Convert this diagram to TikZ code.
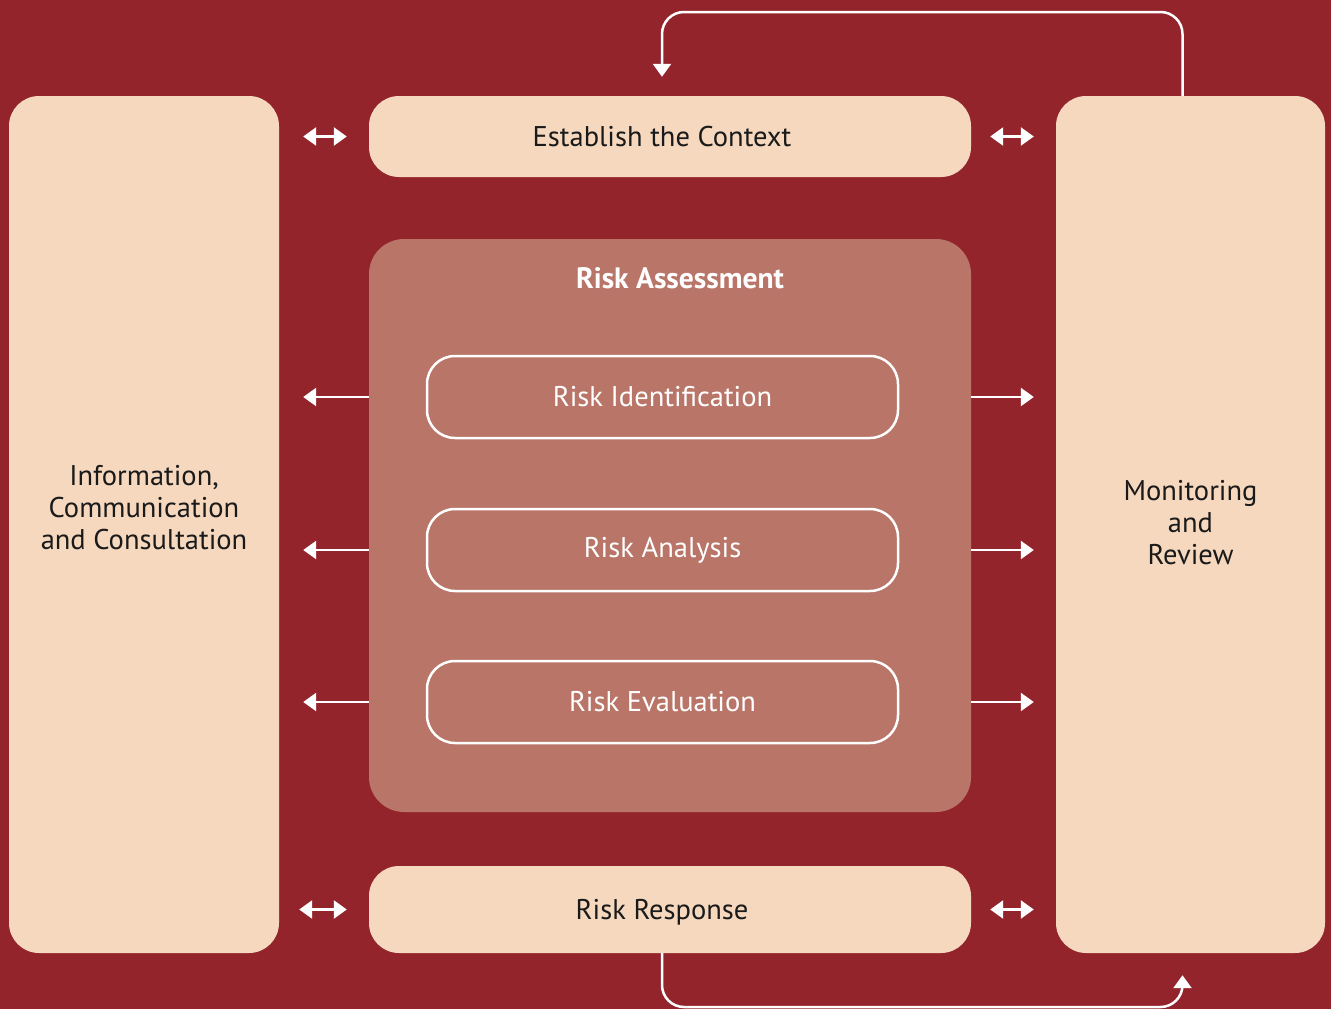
\documentclass[tikz,border=0pt]{standalone}
\usepackage{fontspec}
\setmainfont{PT Sans}
\usetikzlibrary{arrows.meta,positioning}
\definecolor{bgred}{HTML}{93242C}
\definecolor{sand}{HTML}{F5D8BE}
\definecolor{clay}{HTML}{B97568}
\definecolor{ink}{HTML}{1A1A1A}
\tikzset{
  sandbox/.style={fill=sand, rounded corners=30pt, text=ink, align=center,
    font=\fontsize{28.5}{32}\selectfont, inner sep=0pt},
  stagebox/.style={draw=white, line width=2.5pt, fill=clay, rounded corners=28pt,
    text=white, minimum width=471pt, minimum height=82pt,
    font=\fontsize{28.5}{32}\selectfont},
  link/.style={draw=white, line width=2.5pt, -{Triangle[width=18pt,length=13pt]}},
  twoway/.style={draw=white, line width=2.5pt,
    {Triangle[width=18pt,length=13pt]}-{Triangle[width=18pt,length=13pt]}}
}
\begin{document}
\begin{tikzpicture}[x=1pt,y=-1pt]
    % background
    \fill[bgred] (0,0) rectangle (1331,1009);
    % side columns
    \node[sandbox, minimum width=270pt, minimum height=857pt,
      label={[yshift=17pt, align=center, text=ink, font=\fontsize{28.5}{32}\selectfont]center:Information,\\Communication\\and Consultation}] (info) at (144,524.5) {};
    \node[sandbox, minimum width=269pt, minimum height=857pt,
      label={[yshift=2pt, align=center, text=ink, font=\fontsize{28.5}{32}\selectfont]center:Monitoring\\and\\Review}] (monitor) at (1190.5,524.5) {};
    % context and response
    \node[sandbox, minimum width=602pt, minimum height=81pt] (context) at (670,136.5) {Establish the Context\kern16pt};
    \node[sandbox, minimum width=602pt, minimum height=87pt,
      label={[yshift=-3pt, text=ink, font=\fontsize{28.5}{32}\selectfont]center:Risk Response\kern16pt}] (response) at (670,909.5) {};
    % risk assessment block
    \node[fill=clay, rounded corners=35pt, minimum width=602pt, minimum height=573pt] (assess) at (670,525.5) {};
    \node[text=white, font=\fontsize{29.5}{32}\selectfont\bfseries] (title) at (680,278) {Risk Assessment};
    \node[stagebox] (ident) at (662.5,397) {Risk Identification};
    \node[stagebox] (analysis) at (662.5,550) {Risk Analysis};
    \node[stagebox] (evalu) at (662.5,702) {Risk Evaluation};
    % two-way arrows
    \draw[twoway, shorten <=24pt, shorten >=22pt] (info.east |- context) -- (context.west);
    \draw[twoway, shorten <=19pt, shorten >=22pt] (context.east) -- (monitor.west |- context);
    \draw[twoway, shorten <=20pt, shorten >=22pt] (info.east |- response) -- (response.west);
    \draw[twoway, shorten <=19pt, shorten >=22pt] (response.east) -- (monitor.west |- response);
    % outgoing arrows
    \foreach \s in {ident,analysis,evalu} {
        \draw[link, shorten >=24pt] (assess.west |- \s) -- (info.east |- \s);
        \draw[link, shorten >=22pt] (assess.east |- \s) -- (monitor.west |- \s);
    }
    % feedback loops
    \coordinate (top) at (900,12);
    \coordinate (bot) at (900,1007);
    \draw[link, rounded corners=22pt, shorten >=19pt] ([xshift=-8pt]monitor.north) |- (top) -| ([xshift=-8pt]context.north);
    \draw[link, rounded corners=22pt, shorten >=22pt] ([xshift=-8pt]response.south) |- (bot) -| ([xshift=-8pt]monitor.south);
\end{tikzpicture}
\end{document}
